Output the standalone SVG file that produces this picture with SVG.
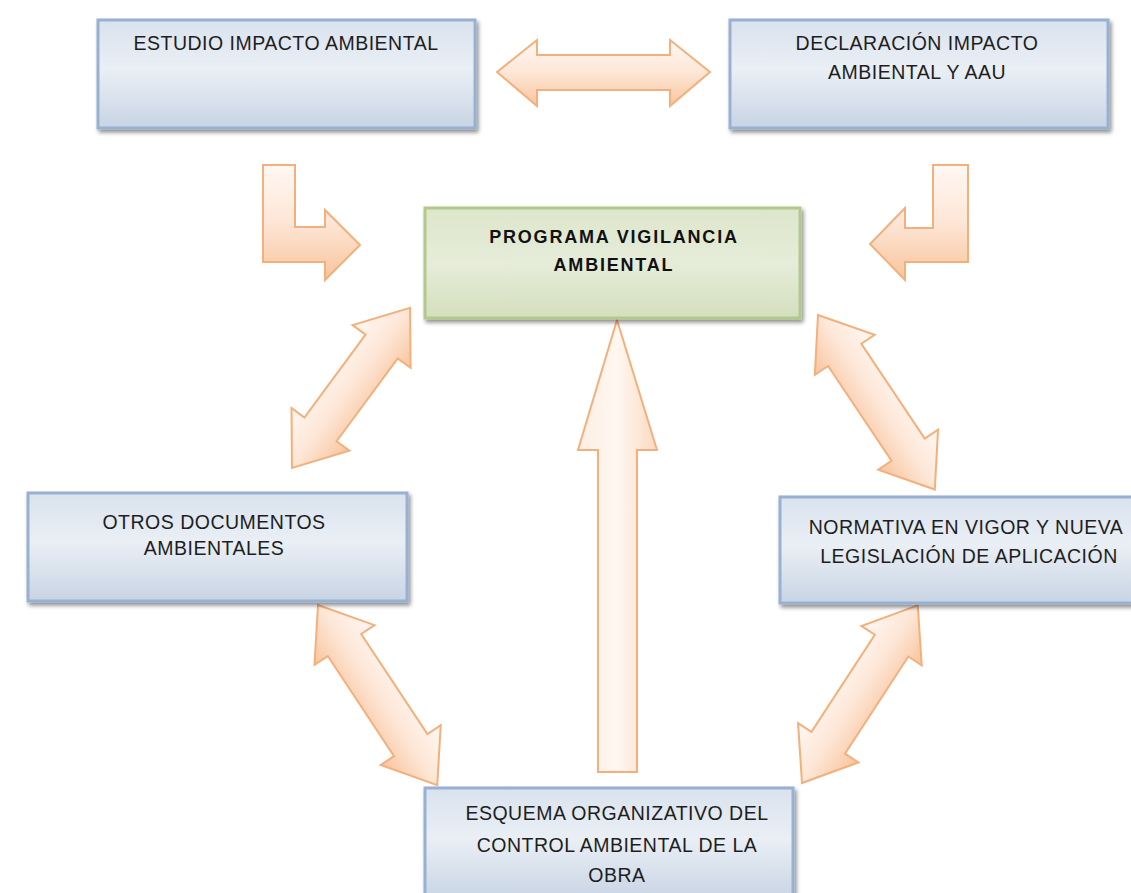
<svg xmlns="http://www.w3.org/2000/svg" width="1131" height="893" viewBox="0 0 1131 893">
<style>
.box{fill:url(#gBlue);stroke:#98b0d2;stroke-width:3;filter:url(#sh)}
.gbox{fill:url(#gGreen);stroke:#b3c88c;stroke-width:3;filter:url(#sh)}
.arr{fill:url(#gPeach);stroke:#f3b07c;stroke-width:2;stroke-linejoin:miter}
.arrv{fill:url(#gPeachH);stroke:#f3b07c;stroke-width:2;stroke-linejoin:miter}
.t{font-family:"Liberation Sans",Arial,sans-serif;font-size:19.5px;letter-spacing:0.5px;fill:#1e1e1e;text-anchor:middle}
.tb{font-family:"Liberation Sans",Arial,sans-serif;font-size:18px;font-weight:bold;letter-spacing:1.8px;fill:#111;text-anchor:middle}
</style>
<defs>
<linearGradient id="gBlue" x1="0" y1="0" x2="0" y2="1">
<stop offset="0" stop-color="#d9e2ee"/>
<stop offset="0.45" stop-color="#eaeff5"/>
<stop offset="1" stop-color="#c8d4e4"/>
</linearGradient>
<linearGradient id="gGreen" x1="0" y1="0" x2="0" y2="1">
<stop offset="0" stop-color="#dde6cb"/>
<stop offset="0.5" stop-color="#e6ecd9"/>
<stop offset="1" stop-color="#d4dfbd"/>
</linearGradient>
<linearGradient id="gPeach" x1="0" y1="0" x2="0" y2="1">
<stop offset="0" stop-color="#fff8f3"/>
<stop offset="0.5" stop-color="#fde6d6"/>
<stop offset="1" stop-color="#f8c49c"/>
</linearGradient>
<linearGradient id="gPeachH" x1="0" y1="0" x2="1" y2="0">
<stop offset="0" stop-color="#fdeee3"/>
<stop offset="0.5" stop-color="#fff7f1"/>
<stop offset="1" stop-color="#fbd9bf"/>
</linearGradient>
<filter id="sh" x="-5%" y="-10%" width="112%" height="125%">
<feGaussianBlur in="SourceAlpha" stdDeviation="2"/>
<feOffset dx="2" dy="3" result="b"/>
<feComponentTransfer><feFuncA type="linear" slope="0.45"/></feComponentTransfer>
<feMerge><feMergeNode/><feMergeNode in="SourceGraphic"/></feMerge>
</filter>
</defs>
<rect width="1131" height="893" fill="#ffffff"/>
<g id="connectors">
<path class="arr" d="M497,72 L537,40 L537,55 L670,55 L670,40 L710,72 L670,106 L670,90 L537,90 L537,106 Z"/>
<path class="arr" d="M263,165 L295,165 L295,227 L325,227 L325,210 L360,245 L325,280 L325,262 L263,262 Z"/>
<path class="arr" d="M933,165 L968,165 L968,262 L905,262 L905,280 L870,244 L905,208 L905,228 L933,228 Z"/>
<path class="arrv" d="M617,320 L657,450 L637,450 L637,772 L598,772 L598,450 L578,450 Z"/>
<path class="arr" transform="translate(292,468) rotate(-53.6)" d="M0,0 L48,-36 L48,-20 L151,-20 L151,-36 L199,0 L151,36 L151,20 L48,20 L48,36 Z"/>
<path class="arr" transform="translate(818,315) rotate(56.2)" d="M0,0 L48,-36 L48,-20 L162,-20 L162,-36 L210,0 L162,36 L162,20 L48,20 L48,36 Z"/>
<path class="arr" transform="translate(318,605) rotate(56.5)" d="M0,0 L48,-36 L48,-20 L168,-20 L168,-36 L216,0 L168,36 L168,20 L48,20 L48,36 Z"/>
<path class="arr" transform="translate(802,783) rotate(-56.9)" d="M0,0 L48,-36 L48,-20 L164,-20 L164,-36 L212,0 L164,36 L164,20 L48,20 L48,36 Z"/>
</g>
<g id="estudio">
<rect class="box" x="98" y="20" width="377" height="108"/>
<text class="t" x="286" y="50">ESTUDIO IMPACTO AMBIENTAL</text>
</g>
<g id="declaracion">
<rect class="box" x="730" y="20" width="378" height="108"/>
<text class="t" x="917" y="50">DECLARACIÓN IMPACTO</text>
<text class="t" x="917" y="79">AMBIENTAL Y AAU</text>
</g>
<g id="programa">
<rect class="gbox" x="425" y="208" width="375" height="110"/>
<text class="tb" x="614" y="243">PROGRAMA VIGILANCIA</text>
<text class="tb" x="614" y="271">AMBIENTAL</text>
</g>
<g id="otros">
<rect class="box" x="28" y="493" width="379" height="108"/>
<text class="t" x="214" y="529">OTROS DOCUMENTOS</text>
<text class="t" x="214" y="555">AMBIENTALES</text>
</g>
<g id="normativa">
<rect class="box" x="780" y="497" width="362" height="106"/>
<text class="t" x="966" y="534">NORMATIVA EN VIGOR Y NUEVA</text>
<text class="t" x="969" y="563">LEGISLACIÓN DE APLICACIÓN</text>
</g>
<g id="esquema">
<rect class="box" x="425" y="788" width="368" height="112"/>
<text class="t" x="617" y="820">ESQUEMA ORGANIZATIVO DEL</text>
<text class="t" x="617" y="852">CONTROL AMBIENTAL DE LA</text>
<text class="t" x="617" y="882">OBRA</text>
</g>
</svg>
